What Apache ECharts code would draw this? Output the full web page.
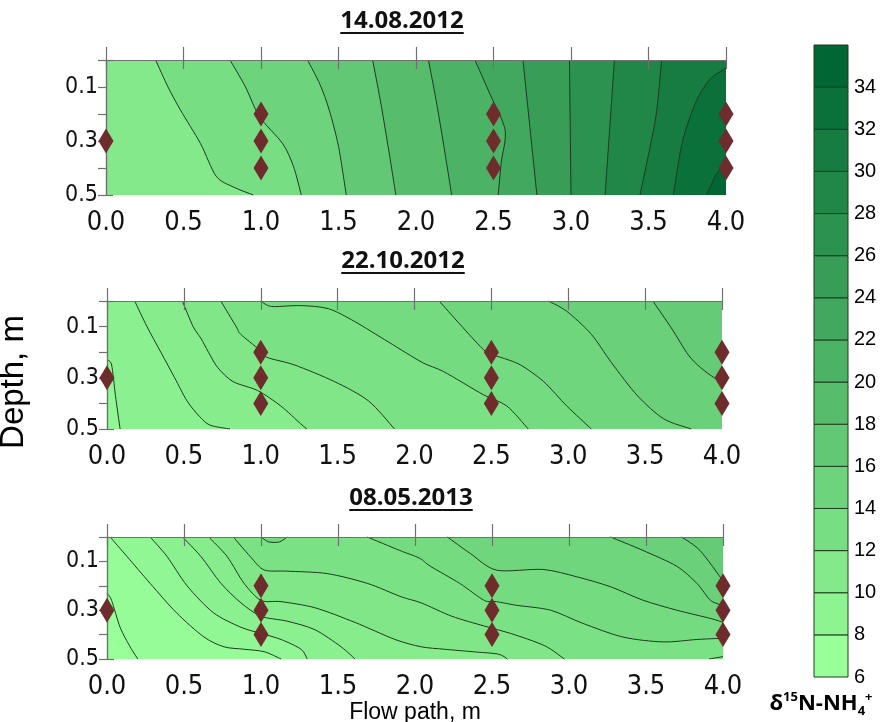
<!DOCTYPE html>
<html><head><meta charset="utf-8">
<script src="https://cdn.jsdelivr.net/npm/echarts@6/dist/echarts.min.js"></script>
<style>html,body{margin:0;padding:0;background:#fff}#c{width:883px;height:722px}</style>
</head><body><div id="c"></div>
<script>
// ================= DATA =================
const panelTitles = ['14.08.2012', '22.10.2012', '08.05.2013'];

// sampling points (diamonds): flow path (m) and depth (m)
const sampleX     = [0,   1,   1,   1,   2.5, 2.5, 2.5, 4,   4,   4];
const sampleDepth = [0.3, 0.2, 0.3, 0.4, 0.2, 0.3, 0.4, 0.2, 0.3, 0.4];

// colour-scale bands (lower bound of each 2-unit band) and labels
const legendLevels = [6, 8, 10, 12, 14, 16, 18, 20, 22, 24, 26, 28, 30, 32, 34];
const legendMax = 36;

// Panel 1: 14.08.2012 — contour interval 2; each line = [flow path, depth] points
const p1Base = 10, p1Step = 2;
const p1Levels = [12, 14, 16, 18, 20, 22, 24, 26, 28, 30, 32, 34];
const p1Lines = [
  [[0.32,0],[0.40,0.1],[0.48,0.185],[0.61,0.31],[0.71,0.43],[0.82,0.47],[0.95,0.5]],
  [[0.80,0],[0.90,0.1],[0.99,0.21],[1.14,0.31],[1.21,0.395],[1.26,0.5]],
  [[1.30,0],[1.38,0.09],[1.44,0.185],[1.50,0.32],[1.55,0.5]],
  [[1.72,0],[1.77,0.15],[1.82,0.32],[1.87,0.5]],
  [[2.08,0],[2.13,0.15],[2.18,0.32],[2.23,0.5]],
  [[2.38,0],[2.48,0.13],[2.575,0.26],[2.55,0.38],[2.53,0.5]],
  [[2.69,0],[2.735,0.25],[2.78,0.5]],
  [[2.99,0],[3.0,0.5]],
  [[3.28,0],[3.25,0.25],[3.22,0.5]],
  [[3.585,0],[3.55,0.2],[3.50,0.35],[3.445,0.5]],
  [[4.0,0.03],[3.90,0.07],[3.81,0.15],[3.72,0.30],[3.66,0.5]],
  [[4.0,0.39],[3.94,0.42],[3.875,0.5]]
];

// Panel 2: 22.10.2012 — contour interval 1
const p2Base = 8, p2Step = 1;
const p2Levels = [9, 10, 11, 12, 13, 14, 15, 16];
const p2Lines = [
  [[0,0.23],[0.03,0.25],[0.055,0.37],[0.085,0.5]],
  [[0.18,0],[0.26,0.1],[0.35,0.2],[0.44,0.3],[0.52,0.39],[0.60,0.45],[0.67,0.485],[0.80,0.5]],
  [[0.49,0],[0.56,0.1],[0.61,0.145],[0.66,0.2],[0.72,0.26],[0.82,0.315],[0.98,0.35],[1.13,0.41],[1.26,0.48],[1.30,0.5]],
  [[0.74,0],[0.84,0.1],[0.87,0.13],[0.99,0.19],[1.04,0.22],[1.22,0.25],[1.48,0.315],[1.70,0.39],[1.87,0.5]],
  [[1.0,0],[1.04,0.016],[1.09,0.022],[1.26,0.018],[1.44,0.03],[1.61,0.08],[1.83,0.16],[2.05,0.24],[2.19,0.276],[2.45,0.367],[2.60,0.41],[2.74,0.5]],
  [[2.16,0],[2.30,0.094],[2.44,0.185],[2.50,0.21],[2.56,0.22],[2.69,0.25],[2.84,0.315],[2.99,0.41],[3.15,0.5]],
  [[2.87,0],[2.99,0.04],[3.15,0.13],[3.28,0.24],[3.45,0.37],[3.62,0.46],[3.80,0.5]],
  [[3.55,0],[3.67,0.105],[3.78,0.21],[3.86,0.26],[3.95,0.30],[4.0,0.31]]
];

// Panel 3: 08.05.2013 — contour interval 1
const p3Base = 6, p3Step = 1;
const p3Levels = [7, 8, 9, 10, 11, 12, 13, 13, 13, 14, 15, 16];
const p3Lines = [
  [[0,0.23],[0.03,0.26],[0.085,0.37],[0.15,0.45],[0.20,0.5]],
  [[0.02,0],[0.13,0.08],[0.28,0.19],[0.45,0.31],[0.63,0.41],[0.76,0.45],[0.89,0.46],[1.02,0.47],[1.13,0.5]],
  [[0.28,0],[0.39,0.08],[0.52,0.20],[0.69,0.31],[0.87,0.37],[1.0,0.395],[1.13,0.42],[1.26,0.46],[1.30,0.5]],
  [[0.49,0],[0.61,0.08],[0.74,0.19],[0.87,0.27],[1.0,0.325],[1.17,0.345],[1.35,0.38],[1.52,0.45],[1.61,0.5]],
  [[0.66,0],[0.78,0.08],[0.89,0.19],[1.0,0.26],[1.13,0.265],[1.35,0.29],[1.61,0.35],[1.87,0.42],[2.04,0.45],[2.19,0.46],[2.37,0.47],[2.54,0.48],[2.60,0.5]],
  [[0.82,0],[0.93,0.08],[1.02,0.135],[1.17,0.14],[1.43,0.15],[1.69,0.19],[1.91,0.245],[2.04,0.27],[2.24,0.325],[2.45,0.365],[2.62,0.395],[2.84,0.445],[2.97,0.5]],
  [[1.0,0],[1.05,0.02],[1.12,0.02],[1.17,0]],
  [[1.69,0],[1.90,0.055],[2.03,0.087],[2.10,0.12],[2.29,0.19],[2.45,0.26],[2.53,0.265],[2.66,0.28],[2.88,0.30],[3.09,0.354],[3.35,0.41],[3.61,0.43],[3.83,0.42],[4.0,0.415]],
  [[4.0,0.49],[3.91,0.5]],
  [[2.21,0],[2.36,0.068],[2.53,0.136],[2.83,0.133],[3.05,0.163],[3.27,0.204],[3.48,0.259],[3.70,0.30],[3.92,0.334],[4.0,0.35]],
  [[3.27,0],[3.48,0.055],[3.70,0.12],[3.83,0.19],[3.92,0.26],[4.0,0.28]],
  [[3.73,0],[3.85,0.055],[4.0,0.18]]
];

// ================= STYLE / LAYOUT =================
const palette = ['#99FF99','#8EF492','#83E98A','#78DE83','#6DD37C','#62C875','#57BD6D','#4CB266',
                 '#42A75F','#379D57','#2C9250','#218749','#167C42','#0B713A','#006633'];
const X_MIN = 0, X_MAX = 4, D_MIN = 0, D_MAX = 0.5;
const SANS = '"Liberation Sans", Arial, sans-serif';
const AXIS_GRAY = '#707070';
const LINE_COLOR = '#1e3a1e';
const DIAMOND = '#6e2c2c';

// pick a condensed face for tick labels if one is installed
const mctx = document.createElement('canvas').getContext('2d');
function hasFont(name){
  mctx.font = '30px monospace'; const a = mctx.measureText('0.05 Mg').width;
  mctx.font = '30px "' + name + '", monospace'; const b = mctx.measureText('0.05 Mg').width;
  return Math.abs(a - b) > 0.5;
}
const condensedCandidates = ['Liberation Sans Narrow', 'DejaVu Sans Condensed', 'Roboto Condensed', 'Open Sans Condensed', 'Noto Sans Condensed'];
const condensed = condensedCandidates.find(hasFont);
const TICK_FONT = condensed ? '"' + condensed + '", ' + SANS : SANS;
const X_TICK_SIZE = condensed ? 27 : 24;
const Y_TICK_SIZE = condensed ? 23 : 21;

const gridBoxes = [
  {left: 106, top: 60,  width: 620, height: 135},
  {left: 107, top: 301, width: 615, height: 128},
  {left: 107, top: 537, width: 616, height: 122},
  {left: 814, top: 45,  width: 34,  height: 632}
];
const titleCenters = [[402, 21], [403, 261], [411, 498]];

const panels = [
  {base: p1Base, step: p1Step, levels: p1Levels, lines: p1Lines},
  {base: p2Base, step: p2Step, levels: p2Levels, lines: p2Lines},
  {base: p3Base, step: p3Step, levels: p3Levels, lines: p3Lines}
];

function hexRgb(h){ return [parseInt(h.substr(1,2),16), parseInt(h.substr(3,2),16), parseInt(h.substr(5,2),16)]; }
const palRgb = palette.map(hexRgb);
function ramp(v){
  let t = (v - 7) / 2; t = Math.max(0, Math.min(palette.length - 1, t));
  const i = Math.min(Math.floor(t), palette.length - 2), f = t - i;
  const a = palRgb[i], b = palRgb[i + 1];
  return 'rgb(' + a.map((c, k) => Math.round(c + (b[k] - c) * f)).join(',') + ')';
}

// position along the plot border, counter-clockwise (screen coords, depth downward)
function perim(p){
  const x = p[0], d = p[1], e = 1e-6;
  if (x <= X_MIN + e && d < D_MAX - e) return (d - D_MIN) / (D_MAX - D_MIN);
  if (d >= D_MAX - e) return 1 + (x - X_MIN) / (X_MAX - X_MIN);
  if (x >= X_MAX - e) return 2 + (D_MAX - d) / (D_MAX - D_MIN);
  return 3 + (X_MAX - x) / (X_MAX - X_MIN);
}
const cornerAt = {0: [X_MIN, D_MIN], 1: [X_MIN, D_MAX], 2: [X_MAX, D_MAX], 3: [X_MAX, D_MIN]};
function closingCorners(pts){
  let pS = perim(pts[0]); const pE = perim(pts[pts.length - 1]);
  if (pS <= pE) pS += 4;
  const out = [];
  for (let c = 1; c <= 8; c++) if (c > pE && c < pS) out.push(cornerAt[c % 4]);
  return out;
}
// smooth (Catmull-Rom as cubic Bezier) path through screen points
function curveCmds(P){
  const s = 0.85; const f = v => v.toFixed(2);
  let d = 'M' + f(P[0][0]) + ' ' + f(P[0][1]);
  for (let i = 0; i < P.length - 1; i++) {
    const p0 = P[i - 1] || P[i], p1 = P[i], p2 = P[i + 1], p3 = P[i + 2] || P[i + 1];
    const c1 = [p1[0] + (p2[0] - p0[0]) * s / 6, p1[1] + (p2[1] - p0[1]) * s / 6];
    const c2 = [p2[0] - (p3[0] - p1[0]) * s / 6, p2[1] - (p3[1] - p1[1]) * s / 6];
    d += ' C' + f(c1[0]) + ' ' + f(c1[1]) + ' ' + f(c2[0]) + ' ' + f(c2[1]) + ' ' + f(p2[0]) + ' ' + f(p2[1]);
  }
  return d;
}

const xAxis = [], yAxis = [], series = [];
panels.forEach((P, k) => {
  const common = {gridIndex: k, type: 'value', min: X_MIN, max: X_MAX, interval: 0.5, z: 4,
    splitLine: {show: false}, axisLine: {show: true, lineStyle: {color: AXIS_GRAY, width: 1.2}}};
  xAxis.push(Object.assign({}, common, {position: 'bottom',
    axisTick: {show: true, length: 9, lineStyle: {color: AXIS_GRAY, width: 1.2}},
    axisLabel: {margin: 14, fontSize: X_TICK_SIZE, fontFamily: TICK_FONT, color: '#111', formatter: v => v.toFixed(1)},
    name: k === 2 ? 'Flow path, m' : '', nameLocation: 'middle', nameGap: 34,
    nameTextStyle: {fontSize: 23, fontFamily: SANS, color: '#000'}}));
  xAxis.push(Object.assign({}, common, {position: 'top',
    axisTick: {show: true, length: 13, lineStyle: {color: AXIS_GRAY, width: 1.2}},
    axisLabel: {show: false}}));
  const ycommon = {gridIndex: k, type: 'value', min: D_MIN, max: D_MAX, inverse: true, z: 4,
    splitLine: {show: false}, axisLine: {show: true, lineStyle: {color: AXIS_GRAY, width: 1.2}}};
  yAxis.push(Object.assign({}, ycommon, {position: 'left', interval: 0.1,
    axisTick: {show: true, length: 8, lineStyle: {color: AXIS_GRAY, width: 1.2}},
    axisLabel: {margin: 8, fontSize: Y_TICK_SIZE, fontFamily: TICK_FONT, color: '#111',
      formatter: v => (Math.round(v * 10) % 2 === 1 ? v.toFixed(1) : '')}}));
  yAxis.push(Object.assign({}, ycommon, {position: 'right', interval: 0.5,
    axisTick: {show: true, length: 7, lineStyle: {color: AXIS_GRAY, width: 1.2}},
    axisLabel: {show: false}}));

  const fillData = [P.base].concat(P.levels);
  series.push({
    type: 'custom', xAxisIndex: 2 * k, yAxisIndex: 2 * k, silent: true, z: 2,
    data: fillData.map(v => [v]),
    renderItem: (params, api) => {
      const i = params.dataIndex;
      const color = ramp(fillData[i] + P.step / 2);
      if (i === 0) {
        const rect = [[X_MIN, D_MIN], [X_MIN, D_MAX], [X_MAX, D_MAX], [X_MAX, D_MIN]];
        return {type: 'polygon', z2: 0, shape: {points: rect.map(p => api.coord(p))}, style: {fill: color}};
      }
      const pts = P.lines[i - 1];
      let d = curveCmds(pts.map(p => api.coord(p)));
      closingCorners(pts).forEach(c => { const q = api.coord(c); d += ' L' + q[0] + ' ' + q[1]; });
      d += ' Z';
      return {type: 'path', z2: i, shape: {pathData: d}, style: {fill: color, stroke: null}};
    }
  });
  series.push({
    type: 'custom', xAxisIndex: 2 * k, yAxisIndex: 2 * k, silent: true, z: 3,
    data: P.levels.map(v => [v]),
    renderItem: (params, api) => ({
      type: 'path', shape: {pathData: curveCmds(P.lines[params.dataIndex].map(p => api.coord(p)))},
      style: {stroke: LINE_COLOR, lineWidth: 1, fill: null}
    })
  });
  series.push({
    type: 'scatter', xAxisIndex: 2 * k, yAxisIndex: 2 * k, silent: true, z: 6, clip: false,
    symbol: 'diamond', symbolSize: [15, 25], itemStyle: {color: DIAMOND, opacity: 1},
    data: sampleX.map((x, i) => [x, sampleDepth[i]])
  });
});

// colour bar
xAxis.push({gridIndex: 3, type: 'value', min: 0, max: 1, show: false});
yAxis.push({gridIndex: 3, type: 'value', min: legendLevels[0], max: legendMax, interval: 2, position: 'right',
  axisLine: {show: false}, axisTick: {show: false}, splitLine: {show: false},
  axisLabel: {margin: 6, fontSize: 20, fontFamily: SANS, color: '#000',
    formatter: v => (v === legendMax ? '' : String(v))}});
series.push({
  type: 'custom', xAxisIndex: 6, yAxisIndex: 6, silent: true,
  data: legendLevels.map(v => [v]),
  renderItem: (params, api) => {
    const lo = legendLevels[params.dataIndex];
    const a = api.coord([0, lo + 2]), b = api.coord([1, lo]);
    return {type: 'rect', shape: {x: a[0], y: a[1], width: b[0] - a[0], height: b[1] - a[1]},
      style: {fill: palette[params.dataIndex], stroke: '#1d3d1d', lineWidth: 1}};
  }
});

// titles with underline, axis title, colour-bar title
const TITLE_FONT = 'bold 24px "Open Sans", "Liberation Sans", sans-serif';
mctx.font = TITLE_FONT;
const graphic = [];
panelTitles.forEach((t, k) => {
  const [cx, cy] = titleCenters[k];
  const w = mctx.measureText(t).width;
  graphic.push({type: 'text', x: cx, y: cy, silent: true,
    style: {text: t, font: TITLE_FONT, fill: '#111', align: 'center', verticalAlign: 'middle'}});
  graphic.push({type: 'line', silent: true, shape: {x1: cx - w / 2, y1: cy + 12, x2: cx + w / 2, y2: cy + 12},
    style: {stroke: '#111', lineWidth: 2}});
});
graphic.push({type: 'text', x: 14, y: 382, rotation: Math.PI / 2, silent: true,
  style: {text: 'Depth, m', font: '33px ' + SANS, fill: '#000', align: 'center', verticalAlign: 'middle'}});
graphic.push({type: 'text', x: 821, y: 704, silent: true,
  style: {text: '{a|δ}{s|15}{a|N-NH}{b|4}{s|+}', align: 'center', verticalAlign: 'middle',
    rich: {
      a: {font: 'bold 22px "Open Sans", sans-serif', fill: '#000', lineHeight: 27, verticalAlign: 'middle'},
      s: {font: 'bold 13px "Open Sans", sans-serif', fill: '#000', lineHeight: 14, verticalAlign: 'top'},
      b: {font: 'bold 13px "Open Sans", sans-serif', fill: '#000', lineHeight: 14, verticalAlign: 'bottom'}
    }}});

const chart = echarts.init(document.getElementById('c'), null, {renderer: 'canvas'});
chart.setOption({
  animation: false,
  backgroundColor: '#fff',
  grid: gridBoxes.map(g => Object.assign({outerBoundsMode: 'none', containLabel: false}, g)),
  xAxis, yAxis, series, graphic
});
</script>
</body></html>
